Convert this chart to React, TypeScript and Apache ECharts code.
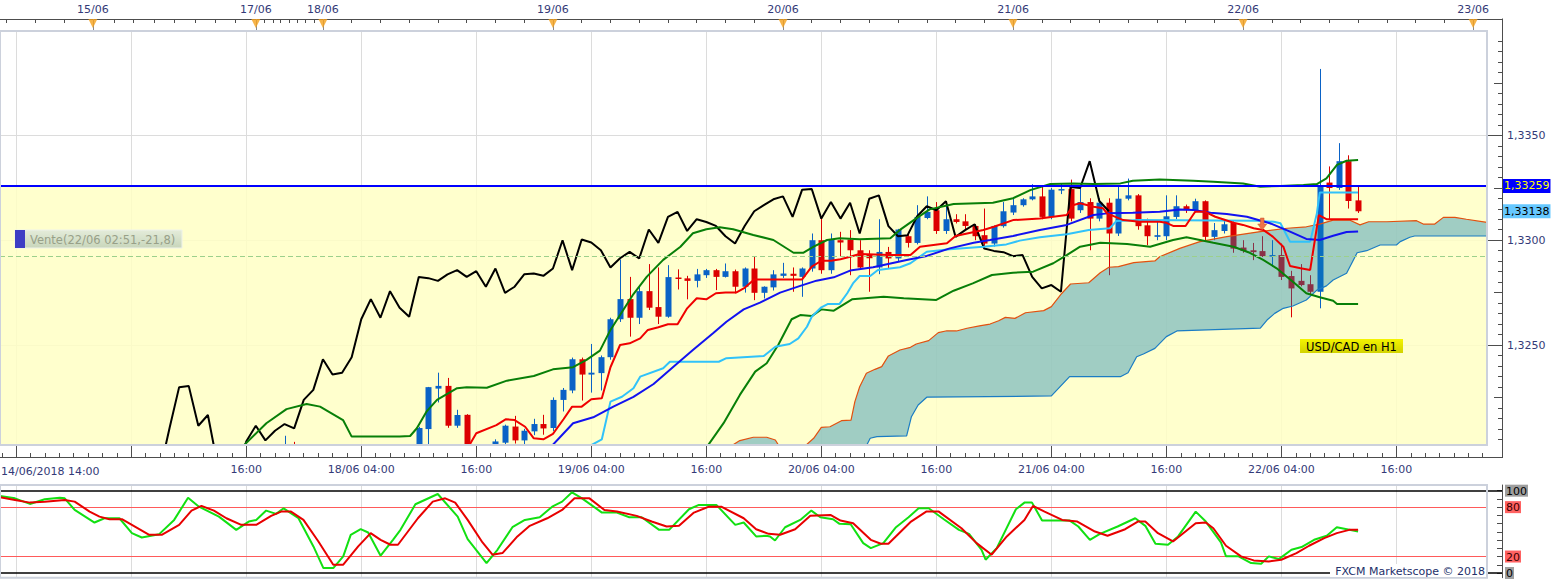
import React, { useEffect, useRef } from "react";
import * as echarts from "echarts";

const FONT = "DejaVu Sans";
const AXIS_TEXT = "#333a78";
const AXIS_LINE = "#4d4d4d";
const GRID_BORDER = "#ccd1dc";
const UP_COLOR = "#0a62c6";
const DOWN_COLOR = "#dc0000";

// x = H1 bar index (14/06/2018 14:00 = 0), y = USD/CAD price
const X_MIN = 0.31;
const X_MAX = 155.45;
const Y_MIN = 1.32023;
const Y_MAX = 1.33998;
const STOCH_MIN = -5.7;
const STOCH_MAX = 106.9;

const firstXLabel = "14/06/2018 14:00";
const xLabelIdx = [26, 38, 50, 62, 74, 86, 98, 110, 122, 134, 146];
const xLabelText = ["16:00", "18/06 04:00", "16:00", "19/06 04:00", "16:00", "20/06 04:00", "16:00", "21/06 04:00", "16:00", "22/06 04:00", "16:00"];
const majorTickIdx = [2, 14, 26, 38, 50, 62, 74, 86, 98, 110, 122, 134, 146];
const dayIdx = [10, 27, 34, 58, 82, 106, 130, 154];
const dayText = ["15/06", "17/06", "18/06", "19/06", "20/06", "21/06", "22/06", "23/06"];
const topTickIdxEarly = [1, 4, 7, 10, 12.2, 14.2, 16.4, 18.5, 20.7, 22.8, 24.9, 27, 27.9, 28.8, 29.6, 30.5, 31.3, 32.2, 33.1];
const yLabelValues = [1.325, 1.33, 1.335];
const stochLabelValues = [0, 20, 80, 100];

const LEVEL = 1.33259;
const ENTRY = 1.32925;
const TRADE_LABEL = "Vente(22/06 02:51,-21,8)";
const TRADE_POINT: [number, number] = [132, 1.33077];
const PAIR_LABEL = "USD/CAD en H1";
const COPYRIGHT = "FXCM Marketscope © 2018";

// candles [open, high, low, close] from bar CANDLE_START
const CANDLE_START = 30;
const ohlc: ([number, number, number, number] | null)[] = [
  [1.3195, 1.32067, 1.319, 1.32],
  [1.3199, 1.32038, 1.3188, 1.3194],
  null, null, null, null, null, null, null, null, null, null, null,
  [1.3195, 1.3198, 1.3187, 1.319],
  [1.3191, 1.3211, 1.3189, 1.32104],
  [1.32099, 1.323, 1.32, 1.32299],
  [1.32292, 1.32368, 1.32226, 1.32305],
  [1.32305, 1.32343, 1.32105, 1.32115],
  [1.32115, 1.32191, 1.32105, 1.32166],
  [1.32167, 1.3217, 1.3191, 1.3193],
  [1.3193, 1.32, 1.3186, 1.319],
  [1.319, 1.3199, 1.3185, 1.3188],
  [1.3188, 1.3205, 1.3186, 1.3204],
  [1.32034, 1.3212, 1.3201, 1.32115],
  [1.32111, 1.32162, 1.3203, 1.32045],
  [1.32045, 1.321, 1.3202, 1.32091],
  [1.32088, 1.32148, 1.3207, 1.32123],
  [1.32123, 1.32167, 1.32072, 1.32102],
  [1.32104, 1.3225, 1.3209, 1.32238],
  [1.32238, 1.32295, 1.32183, 1.32286],
  [1.32283, 1.3244, 1.3227, 1.32432],
  [1.32432, 1.3244, 1.32235, 1.32359],
  [1.32359, 1.32505, 1.32273, 1.32368],
  [1.32366, 1.3245, 1.32283, 1.32442],
  [1.32442, 1.3263, 1.3243, 1.32623],
  [1.32623, 1.32908, 1.3261, 1.32719],
  [1.32719, 1.32825, 1.3254, 1.3263],
  [1.3263, 1.32781, 1.326, 1.32757],
  [1.32757, 1.32886, 1.32667, 1.32678],
  [1.32681, 1.3287, 1.326, 1.32635],
  [1.32635, 1.32881, 1.3263, 1.32824],
  [1.32822, 1.32861, 1.32765, 1.32819],
  [1.32818, 1.3283, 1.32718, 1.32806],
  [1.32806, 1.32863, 1.32775, 1.32837],
  [1.32833, 1.32863, 1.3282, 1.32857],
  [1.32857, 1.32863, 1.32762, 1.32825],
  [1.32825, 1.32889, 1.32822, 1.32852],
  [1.32852, 1.3286, 1.32746, 1.32778],
  [1.32778, 1.3287, 1.3275, 1.32865],
  [1.32865, 1.32924, 1.32714, 1.32749],
  [1.32749, 1.3278, 1.32722, 1.32778],
  [1.32775, 1.32857, 1.3276, 1.32837],
  [1.3283, 1.32892, 1.3282, 1.32841],
  [1.3284, 1.3287, 1.32754, 1.3283],
  [1.32825, 1.3287, 1.3273, 1.32865],
  [1.32865, 1.33032, 1.3285, 1.33],
  [1.33, 1.33111, 1.3284, 1.32857],
  [1.32857, 1.33032, 1.3284, 1.33003],
  [1.33, 1.3304, 1.32922, 1.32989],
  [1.33003, 1.33048, 1.32833, 1.32952],
  [1.32952, 1.33, 1.3286, 1.3287],
  [1.32933, 1.32952, 1.32754, 1.32914],
  [1.3287, 1.331, 1.32838, 1.32944],
  [1.32944, 1.32968, 1.32865, 1.32913],
  [1.32913, 1.33054, 1.329, 1.33051],
  [1.33019, 1.3304, 1.32965, 1.32987],
  [1.32987, 1.33167, 1.3298, 1.33111],
  [1.33106, 1.33209, 1.331, 1.33135],
  [1.33143, 1.33182, 1.3303, 1.33044],
  [1.33044, 1.33182, 1.3303, 1.331],
  [1.331, 1.33124, 1.3308, 1.33087],
  [1.3309, 1.33124, 1.3305, 1.33068],
  [1.33068, 1.33076, 1.33, 1.33019],
  [1.33024, 1.33151, 1.32965, 1.32984],
  [1.32984, 1.3307, 1.3297, 1.33068],
  [1.33067, 1.33182, 1.3306, 1.33138],
  [1.33132, 1.33206, 1.3312, 1.33167],
  [1.33167, 1.332, 1.3316, 1.33195],
  [1.33195, 1.33267, 1.3319, 1.33209],
  [1.33209, 1.33254, 1.331, 1.33111],
  [1.33111, 1.3325, 1.331, 1.33241],
  [1.33238, 1.3327, 1.3322, 1.33244],
  [1.33244, 1.33289, 1.3309, 1.33103],
  [1.33143, 1.33257, 1.3313, 1.33182],
  [1.33182, 1.332, 1.32952, 1.33103],
  [1.33103, 1.332, 1.3309, 1.33179],
  [1.33179, 1.332, 1.32833, 1.33032],
  [1.33032, 1.33254, 1.3302, 1.33198],
  [1.33198, 1.33294, 1.3319, 1.33214],
  [1.33214, 1.3322, 1.3305, 1.33067],
  [1.33071, 1.33103, 1.32976, 1.33019],
  [1.33016, 1.3309, 1.33, 1.33024],
  [1.33019, 1.33214, 1.33, 1.33114],
  [1.33111, 1.33214, 1.331, 1.33162],
  [1.33162, 1.3317, 1.3313, 1.33143],
  [1.33143, 1.33198, 1.3313, 1.33186],
  [1.33186, 1.3319, 1.33, 1.33016],
  [1.33016, 1.33082, 1.33, 1.33048],
  [1.33044, 1.33099, 1.33032, 1.33076],
  [1.33082, 1.3309, 1.3294, 1.3296],
  [1.32965, 1.33, 1.3294, 1.32949],
  [1.32952, 1.32987, 1.32905, 1.32943],
  [1.32948, 1.33019, 1.3292, 1.32924],
  [1.32924, 1.33, 1.32873, 1.32929],
  [1.32929, 1.32984, 1.3281, 1.32825],
  [1.32829, 1.32854, 1.32632, 1.3277],
  [1.32806, 1.32886, 1.3278, 1.32786],
  [1.3279, 1.32833, 1.3274, 1.32754],
  [1.32754, 1.33817, 1.32675, 1.33254],
  [1.33275, 1.33352, 1.33099, 1.33249],
  [1.33249, 1.33463, 1.3324, 1.33377],
  [1.33377, 1.33405, 1.33151, 1.33187],
  [1.3319, 1.33254, 1.3313, 1.33138],
];
const CHIKOU_SHIFT = 26;
const CHIKOU_FROM = 43;

const tenkan: [number, number][] = [
  [49, 1.32], [50, 1.32079], [52.1, 1.32118], [53.1, 1.32146], [54, 1.32142], [55.1, 1.3211], [56, 1.32055], [57, 1.3205], [58, 1.32076], [59.1, 1.32146], [60, 1.32206], [61, 1.32206], [62, 1.32241], [63.1, 1.32246], [64, 1.32394], [65, 1.325], [66, 1.32508], [67.1, 1.32532], [67.9, 1.32572], [69, 1.32585], [70, 1.32599], [71, 1.32599], [72, 1.32675], [73, 1.32723], [74, 1.32718], [75, 1.32747], [76, 1.3275], [77.1, 1.3275], [78, 1.32773], [79, 1.32813], [84, 1.32813], [85, 1.32874], [86, 1.32902], [87, 1.32902], [88, 1.32909], [89, 1.32921], [90, 1.32934], [93.2, 1.32929], [95.3, 1.32929], [96.3, 1.32969], [99.1, 1.32985], [100, 1.3302], [102.9, 1.33049], [104, 1.33064], [106, 1.33096], [108.8, 1.33104], [111.6, 1.3312], [112.3, 1.33168], [113, 1.33176], [114.4, 1.3316], [115.4, 1.33152], [115.8, 1.33128], [117.5, 1.33096], [119.2, 1.33088], [121.3, 1.33088], [122, 1.33083], [122.7, 1.33068], [124, 1.33068], [125, 1.33136], [126, 1.33136], [127.1, 1.33112], [127.9, 1.331], [129, 1.33083], [130, 1.33073], [131.1, 1.33057], [132.1, 1.33049], [133.1, 1.33017], [134.2, 1.32969], [134.9, 1.32877], [136, 1.32866], [137, 1.32858], [137.9, 1.3312], [138.7, 1.331], [142, 1.331],
];
const kijunBlue: [number, number][] = [
  [57.5, 1.32], [60.1, 1.32127], [62.2, 1.32155], [64.3, 1.32206], [66.4, 1.32253], [68.5, 1.32314], [70.6, 1.32397], [72.6, 1.32476], [74.7, 1.32556], [76.1, 1.32611], [77.9, 1.3267], [79.6, 1.32702], [81.7, 1.3275], [83.8, 1.32782], [85.5, 1.32807], [87.3, 1.32823], [89, 1.32855], [91.4, 1.32871], [94.9, 1.32906], [97, 1.32925], [99.4, 1.32961], [101.9, 1.32988], [103.6, 1.33001], [106, 1.3302], [108.8, 1.33049], [111.6, 1.33073], [114.4, 1.3312], [115.8, 1.33128], [118.5, 1.33131], [121.3, 1.33136], [123.4, 1.33147], [124.8, 1.33144], [126.6, 1.33131], [128.3, 1.33125], [130.4, 1.33112], [132.8, 1.33081], [134.9, 1.33041], [136.6, 1.33006], [138, 1.33001], [139.4, 1.33021], [140.8, 1.33039], [142, 1.33041],
];
const lightBlue: [number, number][] = [
  [61.5, 1.3201], [63.1, 1.3205], [64, 1.3223], [65.2, 1.32253], [66.4, 1.32294], [67.1, 1.32349], [69.5, 1.32389], [70.2, 1.3242], [75.3, 1.3242], [76.1, 1.32437], [80, 1.32448], [81.2, 1.32492], [82.7, 1.32505], [83.6, 1.32532], [84.5, 1.32587], [85, 1.32635], [86, 1.3268], [86.7, 1.32696], [87.9, 1.32696], [88.7, 1.32747], [89.3, 1.32794], [90, 1.32829], [91.1, 1.32829], [91.9, 1.32858], [94.2, 1.32871], [95.3, 1.3289], [97, 1.32945], [99.4, 1.32957], [102.9, 1.32969], [105.3, 1.3298], [106.7, 1.32998], [108.8, 1.33014], [111.6, 1.33028], [113.9, 1.33049], [116.1, 1.33057], [116.8, 1.33092], [119.2, 1.33096], [131.4, 1.33093], [133.2, 1.33088], [133.9, 1.33081], [134.9, 1.32993], [137, 1.32993], [137.7, 1.33128], [138, 1.33227], [142, 1.33227],
];
const upperBand: [number, number][] = [
  [25.5, 1.3201], [28.1, 1.32127], [30.2, 1.32194], [32.3, 1.32219], [33.7, 1.32206], [36.1, 1.32142], [37, 1.32063], [42, 1.32063], [43.1, 1.32066], [43.8, 1.32103], [44.8, 1.32182], [45.9, 1.32238], [48, 1.32294], [49, 1.32298], [51.1, 1.32296], [53.2, 1.3233], [56, 1.32352], [58, 1.32384], [60.1, 1.32394], [61.5, 1.32429], [62.9, 1.32473], [64, 1.32572], [65, 1.32643], [66.4, 1.32743], [67.8, 1.32826], [69.5, 1.32906], [71.3, 1.32969], [72.6, 1.33033], [74, 1.33052], [75.4, 1.33062], [76.8, 1.33052], [78.9, 1.33025], [81, 1.33001], [83.1, 1.3294], [84.1, 1.3294], [85.2, 1.32969], [86.6, 1.33001], [87.9, 1.33009], [90, 1.33004], [93.2, 1.33009], [94.2, 1.33049], [95.9, 1.33104], [97.3, 1.33147], [99.8, 1.33173], [103.9, 1.33179], [106, 1.332], [107.8, 1.33239], [109.9, 1.33268], [112.3, 1.33271], [114.4, 1.33268], [117.2, 1.33271], [118.5, 1.33284], [121.3, 1.3329], [124.8, 1.33284], [126.9, 1.33279], [130, 1.33271], [131.8, 1.33255], [133.9, 1.33259], [136.3, 1.33263], [137.7, 1.33268], [138.7, 1.33295], [139.8, 1.33359], [140.8, 1.33379], [142, 1.33383],
];
const lowerBand: [number, number][] = [
  [74, 1.3201], [75.8, 1.32127], [77.5, 1.32262], [79.1, 1.32373], [80.3, 1.32413], [81.5, 1.325], [82.9, 1.32623], [83.8, 1.32643], [85, 1.32638], [86, 1.3267], [87.3, 1.32664], [89.2, 1.32718], [92.5, 1.3273], [94.6, 1.32723], [98, 1.32715], [99.8, 1.32759], [101.8, 1.32794], [103.8, 1.32834], [106, 1.32845], [108.1, 1.3285], [110.2, 1.3289], [111.6, 1.32929], [113, 1.32969], [115.1, 1.32988], [117.9, 1.32982], [120.3, 1.32969], [122.7, 1.33001], [124.1, 1.33014], [125.5, 1.33001], [126.9, 1.32988], [129, 1.32969], [130.7, 1.3294], [132.1, 1.32906], [133.5, 1.32866], [135.2, 1.32802], [136.6, 1.32747], [138, 1.32728], [139.4, 1.32711], [139.8, 1.32696], [142, 1.32696],
];
const senkouA: [number, number][] = [
  [76.3, 1.3201], [77.5, 1.32044], [78.9, 1.3206], [80.3, 1.3206], [81.2, 1.32047], [81.7, 1.3201], [82.9, 1.3199], [84.1, 1.3201], [85.2, 1.32055], [86, 1.32107], [86.9, 1.3211], [88.1, 1.32139], [89.1, 1.32142], [89.5, 1.3223], [90, 1.32301], [90.7, 1.32365], [91.6, 1.32384], [92.3, 1.32397], [93, 1.32448], [94.2, 1.32476], [95.3, 1.32489], [95.9, 1.32505], [97.2, 1.32521], [98.2, 1.32559], [99.1, 1.32568], [100.1, 1.32567], [101.2, 1.3258], [102.5, 1.32591], [103.6, 1.326], [104.5, 1.32616], [105.2, 1.32632], [106.2, 1.32627], [107.3, 1.32654], [109.2, 1.32664], [110, 1.32683], [111.1, 1.32747], [112, 1.32791], [113.9, 1.32797], [115.1, 1.32845], [116, 1.32871], [117, 1.32874], [118.6, 1.32893], [120.8, 1.32901], [121.3, 1.32921], [123.4, 1.32961], [125.5, 1.32993], [128.3, 1.33017], [131.8, 1.33041], [134.6, 1.33057], [136.6, 1.33064], [138, 1.33077], [139.4, 1.33096], [141.1, 1.33096], [142.2, 1.33073], [143.1, 1.33088], [145, 1.33088], [148.1, 1.33093], [148.8, 1.33077], [150, 1.33077], [150.9, 1.33109], [152.1, 1.33109], [153.3, 1.331], [155.45, 1.33085],
];
const senkouB: [number, number][] = [
  [76, 1.3193], [90.2, 1.3195], [90.6, 1.3201], [91.1, 1.32055], [91.8, 1.32063], [94.9, 1.32067], [95.4, 1.32158], [96.1, 1.32214], [97, 1.32251], [110, 1.32257], [111.9, 1.32349], [117.2, 1.32349], [118, 1.32368], [118.9, 1.32444], [119.6, 1.32457], [120.8, 1.32484], [122, 1.3254], [123.1, 1.32567], [131.8, 1.32581], [132.5, 1.32619], [133.3, 1.32651], [134.2, 1.32675], [135.2, 1.32686], [136.6, 1.32715], [137.7, 1.32762], [138.7, 1.32782], [139.4, 1.3281], [140.8, 1.32842], [141.9, 1.3294], [142.9, 1.3295], [144.3, 1.32977], [146, 1.32977], [146.4, 1.32993], [147.4, 1.33014], [147.9, 1.3302], [155.45, 1.3302],
];
const stochK: [number, number][] = [
  [0.31, 93.5], [1.87, 90.7], [3.43, 83.9], [4.98, 89.5], [6.54, 91.5], [7.06, 90.7], [8.1, 76.6], [10.17, 61.3], [11.21, 66.5], [12.77, 66.5], [14.07, 48.4], [15.1, 43.1], [16.92, 47.2], [18.48, 64.5], [19.93, 91.5], [21.07, 80.6], [23.15, 68.5], [24.96, 52.4], [26.26, 62.5], [27.04, 64.5], [28.08, 75.8], [29.12, 71.8], [29.9, 78.6], [31.45, 66.5], [33.01, 32.3], [34.05, 6], [35.08, 6], [36.12, 20.2], [36.9, 46.4], [37.94, 53.2], [38.72, 49.2], [40.02, 21], [41.31, 40.3], [42.09, 52.4], [43.65, 83.5], [45.98, 96], [48.06, 68.5], [49.1, 41.1], [51.07, 12.1], [52.21, 28.2], [53.77, 55.6], [55.07, 64.5], [56.62, 67.7], [57.92, 80.6], [58.96, 86.7], [59.99, 98], [61.03, 90.7], [63.11, 73.4], [64.67, 73.4], [65.97, 67.7], [67.26, 67.7], [69.08, 52.4], [70.12, 52.4], [72.19, 77.4], [73.23, 82.7], [75.05, 82.7], [77.02, 58.5], [77.9, 61.3], [79.2, 44.4], [80.24, 45.2], [80.65, 44.4], [81.17, 39.5], [82.22, 55.6], [83.8, 64.5], [84.96, 75.8], [85.9, 67.7], [87.22, 65.3], [87.9, 59.7], [89.06, 59.3], [90.37, 36.3], [91.16, 30.2], [92.47, 36.3], [93.79, 55.6], [95.1, 67.7], [96.15, 78.6], [97.2, 78.6], [98.78, 65.3], [100.36, 52.4], [101.41, 47.6], [102.72, 28.2], [103.14, 16.1], [104.3, 30.2], [106.3, 77.4], [107.19, 85.5], [107.98, 85.5], [109.03, 63.7], [111.92, 63.7], [112.81, 56.5], [114.02, 40.3], [115.07, 47.6], [116.91, 56.5], [118.75, 66.5], [119.8, 57.3], [120.86, 35.5], [122.17, 34.3], [123.22, 44.4], [125.06, 74.6], [126.11, 62.5], [127.69, 37.1], [128.22, 20.2], [129.53, 20.2], [130.84, 12.1], [131.89, 11.3], [132.68, 20.2], [133.73, 16.9], [135.05, 28.2], [136.1, 31.5], [137.41, 40.3], [138.73, 45.2], [139.78, 55.6], [140.83, 53.2], [142, 50.4],
];
const stochD: [number, number][] = [
  [0.31, 91.9], [1.87, 88.7], [3.43, 85.5], [4.98, 86.7], [7.06, 88.7], [8.1, 86.7], [9.66, 74.6], [10.69, 68.5], [11.73, 65.3], [13.03, 65.3], [14.07, 58.5], [15.88, 46.4], [17.18, 46.4], [19, 58.5], [20.29, 75.8], [21.33, 81.5], [22.63, 75.8], [23.93, 66.5], [25.48, 58.5], [27.04, 58.5], [28.6, 69.4], [29.64, 74.6], [30.67, 74.6], [31.97, 64.5], [33.53, 38.3], [35.08, 10.1], [36.12, 10.1], [37.68, 32.3], [38.98, 48.4], [40.02, 40.3], [41.05, 34.3], [41.83, 34.3], [43.91, 66.5], [45.46, 86.7], [46.76, 90.7], [47.8, 85.5], [49.1, 64.5], [50.65, 37.1], [51.69, 22.2], [52.73, 24.2], [54.29, 44.4], [55.58, 57.3], [57.4, 66.5], [58.96, 76.6], [60.25, 90.7], [61.81, 90.7], [63.37, 76.6], [64.67, 74.6], [66.74, 69.4], [68.3, 62.5], [69.86, 56.5], [71.15, 57.3], [72.71, 73.4], [74.27, 80.6], [75.56, 80.6], [77.9, 66.5], [79.2, 53.2], [80.5, 47.6], [81.7, 46.4], [83.27, 53.2], [84.85, 69.4], [86.95, 70.6], [88, 63.7], [89.32, 60.5], [91.16, 40.3], [92.21, 35.5], [93, 35.5], [95.36, 62.5], [96.94, 74.6], [98.25, 74.6], [100.62, 54.4], [102.2, 36.3], [103.77, 22.2], [105.35, 44.4], [107.19, 64.5], [108.08, 81.5], [109.29, 74.6], [111.13, 64.5], [112.71, 62.5], [114.55, 50.4], [115.86, 45.2], [117.7, 53.2], [119.02, 62.5], [119.8, 62.5], [121.12, 48.4], [122.69, 38.3], [125.06, 60.5], [126.11, 61.3], [126.9, 54.4], [128.22, 33.1], [129.79, 20.2], [131.11, 15.3], [132.68, 14.1], [133.99, 16.1], [135.57, 24.2], [136.89, 33.1], [138.47, 42.3], [139.78, 48.4], [141.09, 52.4], [142, 52.4],
];

const fmtPrice = (v: number, d: number) => v.toFixed(d).replace(".", ",");

function buildOption() {
  const candleData = ohlc
    .map((c, k) => (c ? [CANDLE_START + k, c[0], c[3], c[2], c[1]] : null))
    .filter((c) => c !== null);
  const chikou = ohlc
    .map((c, k) => (c && CANDLE_START + k >= CHIKOU_FROM ? [CANDLE_START + k - CHIKOU_SHIFT, c[3]] : null))
    .filter((c) => c !== null);
  const lastCandle = ohlc[ohlc.length - 1]!;
  const lastClose = lastCandle[3];

  const minorX: number[] = [];
  for (let m = majorTickIdx[0] - 12; m <= X_MAX; m += 12) {
    for (let j = 1; j < 8; j++) minorX.push(m + j * 1.5);
  }
  const topTicks = [...topTickIdxEarly];
  for (let t = 34; t <= X_MAX; t += 3) topTicks.push(t);
  const minorY: number[] = [];
  const midY: number[] = [];
  for (let k = 2640; k <= 2680; k++) minorY.push(+(k * 0.0005).toFixed(5));
  for (let k = 528; k <= 536; k++) midY.push(+(k * 0.0025).toFixed(5));
  const stochTicks: number[] = [];
  for (let v = 0; v <= 100; v += 10) stochTicks.push(v);

  const baseX = { type: "value", min: X_MIN, max: X_MAX, splitLine: { show: false } };
  const tickLine = { color: AXIS_LINE, width: 1 };
  const labelFont = { fontFamily: FONT, fontSize: 11, color: AXIS_TEXT };

  const line = (data: any[], color: string, width: number, z: number, xi = 0, yi = 0) => ({
    type: "line",
    data,
    xAxisIndex: xi,
    yAxisIndex: yi,
    showSymbol: false,
    symbol: "none",
    silent: true,
    clip: true,
    z,
    lineStyle: { color, width },
    itemStyle: { color },
  });

  const clipRect = (cs: any) => ({ type: "rect", shape: { x: cs.x, y: cs.y, width: cs.width, height: cs.height } });
  const vGrid = majorTickIdx.map((v) => ({ xAxis: v }));

  return {
    animation: false,
    backgroundColor: "#ffffff",
    grid: [
      { left: 0, top: 31, width: 1487, height: 414, show: true, borderColor: GRID_BORDER, borderWidth: 2, backgroundColor: "transparent", z: 10 },
      { left: 0, top: 485, width: 1487, height: 93, show: true, borderColor: GRID_BORDER, borderWidth: 2, backgroundColor: "transparent", z: 10 },
      { left: 0, top: 19, width: 1487, height: 12, show: false },
    ],
    xAxis: [
      {
        ...baseX, gridIndex: 0, position: "bottom", offset: 12,
        axisLine: { show: true, onZero: false, lineStyle: tickLine },
        axisTick: { show: true, inside: true, length: 12, customValues: majorTickIdx, lineStyle: tickLine },
        axisLabel: {
          show: true, customValues: xLabelIdx, margin: 7, ...labelFont,
          formatter: (v: number) => {
            const k = xLabelIdx.findIndex((x) => Math.abs(x - v) < 1e-6);
            return k >= 0 ? xLabelText[k] : "";
          },
        },
      },
      {
        ...baseX, gridIndex: 0, position: "bottom", offset: 12,
        axisLine: { show: false, onZero: false },
        axisTick: { show: true, inside: true, length: 4, customValues: minorX, lineStyle: tickLine },
        axisLabel: { show: false },
      },
      { ...baseX, gridIndex: 1, show: false, axisLine: { onZero: false } },
      {
        ...baseX, gridIndex: 2, position: "top",
        axisLine: { show: true, onZero: false, lineStyle: tickLine },
        axisTick: { show: true, inside: true, length: 4, customValues: topTicks, lineStyle: tickLine },
        axisLabel: {
          show: true, customValues: dayIdx, margin: 4, ...labelFont,
          formatter: (v: number) => {
            const k = dayIdx.findIndex((x) => Math.abs(x - v) < 1e-6);
            return k >= 0 ? dayText[k] : "";
          },
        },
      },
    ],
    yAxis: [
      {
        type: "value", gridIndex: 0, position: "right", offset: 15, min: Y_MIN, max: Y_MAX,
        splitLine: { show: false },
        axisLine: { show: true, onZero: false, lineStyle: tickLine },
        axisTick: { show: true, inside: true, length: 15, customValues: yLabelValues, lineStyle: tickLine },
        axisLabel: { show: true, customValues: yLabelValues, margin: 5, ...labelFont, formatter: (v: number) => fmtPrice(v, 4) },
      },
      {
        type: "value", gridIndex: 0, position: "right", offset: 15, min: Y_MIN, max: Y_MAX,
        splitLine: { show: false }, axisLine: { show: false, onZero: false },
        axisTick: { show: true, inside: true, length: 4, customValues: minorY, lineStyle: tickLine },
        axisLabel: { show: false },
      },
      {
        type: "value", gridIndex: 0, position: "right", offset: 15, min: Y_MIN, max: Y_MAX,
        splitLine: { show: false }, axisLine: { show: false, onZero: false },
        axisTick: { show: true, inside: true, length: 8, customValues: midY, lineStyle: tickLine },
        axisLabel: { show: false },
      },
      {
        type: "value", gridIndex: 1, position: "right", offset: 15, min: STOCH_MIN, max: STOCH_MAX,
        splitLine: { show: false },
        axisLine: { show: true, onZero: false, lineStyle: tickLine },
        axisTick: { show: true, inside: true, length: 5, customValues: stochTicks, lineStyle: tickLine },
        axisLabel: {
          show: true, customValues: stochLabelValues, margin: 3, fontFamily: FONT, fontSize: 11,
          formatter: (v: number) => (v === 0 || v === 100 ? `{g|${v}}` : `{r|${v}}`),
          rich: {
            g: { backgroundColor: "#9e9e9e", color: "#000000", padding: [1, 1, 0, 1], fontFamily: FONT, fontSize: 11 },
            r: { backgroundColor: "#ff6262", color: "#3a0000", padding: [1, 1, 0, 1], fontFamily: FONT, fontSize: 11 },
          },
        },
      },
      {
        type: "value", gridIndex: 1, position: "right", offset: 15, min: STOCH_MIN, max: STOCH_MAX,
        splitLine: { show: false }, axisLine: { show: false, onZero: false },
        axisTick: { show: true, inside: true, length: 15, customValues: [0, 100], lineStyle: { color: "#000", width: 1.5 } },
        axisLabel: { show: false },
      },
      { type: "value", gridIndex: 2, min: 0, max: 1, show: false, axisLine: { onZero: false } },
    ],
    series: [
      {
        type: "line", xAxisIndex: 0, yAxisIndex: 0, data: [[X_MIN, Y_MIN]], showSymbol: false, symbol: "none",
        lineStyle: { opacity: 0 }, silent: true, z: 0,
        markLine: {
          silent: true, z: 0, precision: 6, symbol: ["none", "none"], animation: false,
          label: { show: false },
          lineStyle: { color: "#dcdcdc", width: 1, type: "solid" },
          data: [...vGrid, ...yLabelValues.map((v) => ({ yAxis: v }))],
        },
        markArea: {
          silent: true, z: 1, precision: 6,
          itemStyle: { color: "rgb(255,255,196)", opacity: 0.85 },
          data: [[{ yAxis: LEVEL }, { yAxis: Y_MIN }]],
        },
      },
      {
        type: "custom", xAxisIndex: 0, yAxisIndex: 0, z: 2, silent: true,
        data: candleData,
        dimensions: ["bar", "open", "close", "low", "high"],
        encode: { x: 0, y: [1, 2, 3, 4] },
        renderItem: (params: any, api: any) => {
          const bar = api.value(0);
          const o = api.value(1);
          const c = api.value(2);
          const l = api.value(3);
          const h = api.value(4);
          const pO = api.coord([bar, o]);
          const pC = api.coord([bar, c]);
          const pL = api.coord([bar, l]);
          const pH = api.coord([bar, h]);
          const color = c >= o ? UP_COLOR : DOWN_COLOR;
          const cx = Math.round(pO[0]);
          const top = Math.min(pO[1], pC[1]);
          const bottom = Math.max(pO[1], pC[1]);
          return {
            type: "group",
            clipPath: clipRect(params.coordSys),
            children: [
              { type: "line", shape: { x1: cx + 0.5, y1: pH[1], x2: cx + 0.5, y2: pL[1] }, style: { stroke: color, lineWidth: 1 } },
              { type: "rect", shape: { x: cx - 2.5, y: top, width: 6, height: Math.max(1.5, bottom - top) }, style: { fill: color } },
            ],
          };
        },
      },
      {
        type: "custom", xAxisIndex: 0, yAxisIndex: 0, z: 3, silent: true,
        data: [senkouA[senkouA.length - 1]], encode: { x: 0, y: 1 },
        renderItem: (params: any, api: any) => {
          const pts = [
            ...senkouA.map((p) => api.coord(p)),
            ...senkouB.slice().reverse().map((p) => api.coord(p)),
          ];
          return {
            type: "polygon",
            shape: { points: pts },
            style: { fill: "rgba(10,125,180,0.39)" },
            clipPath: clipRect(params.coordSys),
          };
        },
      },
      line(senkouA, "#e2500f", 1.2, 4),
      line(senkouB, "#1a7cc4", 1.2, 4),
      line(chikou, "#000000", 2, 5),
      line(upperBand, "#087f08", 2, 5),
      line(lowerBand, "#087f08", 2, 5),
      line(lightBlue, "#30c2fa", 2, 6),
      line(kijunBlue, "#1212f0", 2, 6),
      line(tenkan, "#f00000", 2, 7),
      {
        type: "line", xAxisIndex: 0, yAxisIndex: 0, data: [[X_MIN, Y_MIN]], showSymbol: false, symbol: "none",
        lineStyle: { opacity: 0 }, silent: true, z: 8,
        markLine: {
          silent: true, z: 8, precision: 6, symbol: ["none", "none"], animation: false,
          data: [
            {
              yAxis: ENTRY,
              lineStyle: { color: "#9cd08c", width: 1, type: [5, 3], opacity: 1 },
              label: { show: false },
            },
            {
              yAxis: LEVEL,
              lineStyle: { color: "#0000ff", width: 2, type: "solid", opacity: 1 },
              label: {
                show: true, position: "end", distance: 16, formatter: fmtPrice(LEVEL, 5),
                backgroundColor: "#0000ff", color: "#ffff00", padding: [2, 1, 1, 1], fontFamily: FONT, fontSize: 11,
              },
            },
            {
              yAxis: lastClose,
              lineStyle: { color: "rgba(0,0,0,0)", width: 1, type: "solid", opacity: 1 },
              label: {
                show: true, position: "end", distance: 16, formatter: fmtPrice(lastClose, 5), opacity: 1,
                backgroundColor: "#66c8ff", color: "#000000", padding: [2, 1, 1, 1], fontFamily: FONT, fontSize: 11,
              },
            },
          ],
        },
      },
      {
        type: "scatter", xAxisIndex: 0, yAxisIndex: 0, data: [TRADE_POINT], silent: true, z: 9,
        symbol: "path://M3,0L7,0L7,6L10,6L5,12L0,6L3,6Z", symbolSize: [9, 12],
        itemStyle: { color: "#ef7346", borderColor: "#c8502a", borderWidth: 0.5, opacity: 1 },
      },
      // stochastic panel
      {
        type: "line", xAxisIndex: 2, yAxisIndex: 3, data: [[X_MIN, 50]], showSymbol: false, symbol: "none",
        lineStyle: { opacity: 0 }, silent: true, z: 0,
        markLine: {
          silent: true, z: 0, precision: 6, symbol: ["none", "none"], animation: false, label: { show: false },
          lineStyle: { color: "#dcdcdc", width: 1, type: "solid", opacity: 1 },
          data: vGrid,
        },
      },
      {
        ...line(stochK, "#12e012", 2, 4, 2, 3),
        markLine: {
          silent: true, z: 3, precision: 6, symbol: ["none", "none"], animation: false, label: { show: false },
          data: [
            { yAxis: 100, lineStyle: { color: "#000000", width: 1.5, type: "solid" } },
            { yAxis: 0, lineStyle: { color: "#000000", width: 1.5, type: "solid" } },
            { yAxis: 80, lineStyle: { color: "#ff5a5a", width: 1, type: "solid" } },
            { yAxis: 20, lineStyle: { color: "#ff5a5a", width: 1, type: "solid" } },
          ],
        },
      },
      line(stochD, "#e80000", 2, 5, 2, 3),
      // day markers on the top axis
      {
        type: "scatter", xAxisIndex: 3, yAxisIndex: 5, silent: true, z: 5,
        data: dayIdx.map((i) => [i, 0.625]),
        symbol: "triangle", symbolRotate: 180, symbolSize: [9, 9],
        itemStyle: { color: "#f5a11c" },
        markLine: {
          silent: true, z: 4, precision: 6, symbol: ["none", "none"], animation: false, label: { show: false },
          lineStyle: { color: "#8a8a8a", width: 1, type: "solid", opacity: 1 },
          data: dayIdx.map((i) => ({ xAxis: i })),
        },
      },
    ],
    graphic: [
      { type: "line", silent: true, z: 100, shape: { x1: 1502.5, y1: 18.5, x2: 1502.5, y2: 31 }, style: { stroke: AXIS_LINE, lineWidth: 1 } },
      { type: "line", silent: true, z: 100, shape: { x1: 1502.5, y1: 445, x2: 1502.5, y2: 457.5 }, style: { stroke: AXIS_LINE, lineWidth: 1 } },
      { type: "line", silent: true, z: 100, shape: { x1: 1487, y1: 19.5, x2: 1503, y2: 19.5 }, style: { stroke: AXIS_LINE, lineWidth: 1 } },
      { type: "line", silent: true, z: 100, shape: { x1: 1487, y1: 457.5, x2: 1503, y2: 457.5 }, style: { stroke: AXIS_LINE, lineWidth: 1 } },
      {
        type: "text", silent: true, z: 100, x: 1, y: 471,
        style: { text: firstXLabel, fill: AXIS_TEXT, fontFamily: FONT, fontSize: 11, verticalAlign: "middle", align: "left" },
      },
      {
        type: "rect", silent: true, z: 100, shape: { x: 15, y: 230, width: 167, height: 18 },
        style: {
          fill: new echarts.graphic.LinearGradient(0, 0, 0, 1, [
            { offset: 0, color: "#e4ecda" },
            { offset: 1, color: "#c8d6bb" },
          ]),
          stroke: "#eef2ea", lineWidth: 1,
        },
      },
      { type: "rect", silent: true, z: 101, shape: { x: 15, y: 230, width: 10, height: 18 }, style: { fill: "#3d3dc4" } },
      {
        type: "text", silent: true, z: 102, x: 30, y: 239.5,
        style: { text: TRADE_LABEL, fill: "#98a088", fontFamily: FONT, fontSize: 11.5, verticalAlign: "middle", align: "left" },
      },
      {
        type: "rect", silent: true, z: 100, shape: { x: 1300, y: 339, width: 103, height: 14 },
        style: {
          fill: new echarts.graphic.LinearGradient(0, 0, 0, 1, [
            { offset: 0, color: "#f4f400" },
            { offset: 1, color: "#d2d200" },
          ]),
        },
      },
      {
        type: "text", silent: true, z: 101, x: 1351.5, y: 346.5,
        style: { text: PAIR_LABEL, fill: "#000000", fontFamily: FONT, fontSize: 11.5, verticalAlign: "middle", align: "center" },
      },
      { type: "rect", silent: true, z: 100, shape: { x: 1330, y: 564, width: 156, height: 13 }, style: { fill: "#ffffff" } },
      {
        type: "text", silent: true, z: 101, x: 1485, y: 571,
        style: { text: COPYRIGHT, fill: "#23306a", fontFamily: FONT, fontSize: 11, verticalAlign: "middle", align: "right" },
      },
    ],
  };
}

export default function App() {
  const ref = useRef<HTMLDivElement>(null);
  useEffect(() => {
    if (!ref.current) return;
    const chart = echarts.init(ref.current, null, { renderer: "svg" });
    chart.setOption(buildOption() as any);
    return () => chart.dispose();
  }, []);
  return (
    <div
      ref={ref}
      style={{ position: "absolute", left: 0, top: 0, width: 1560, height: 579, background: "#ffffff" }}
    />
  );
}
